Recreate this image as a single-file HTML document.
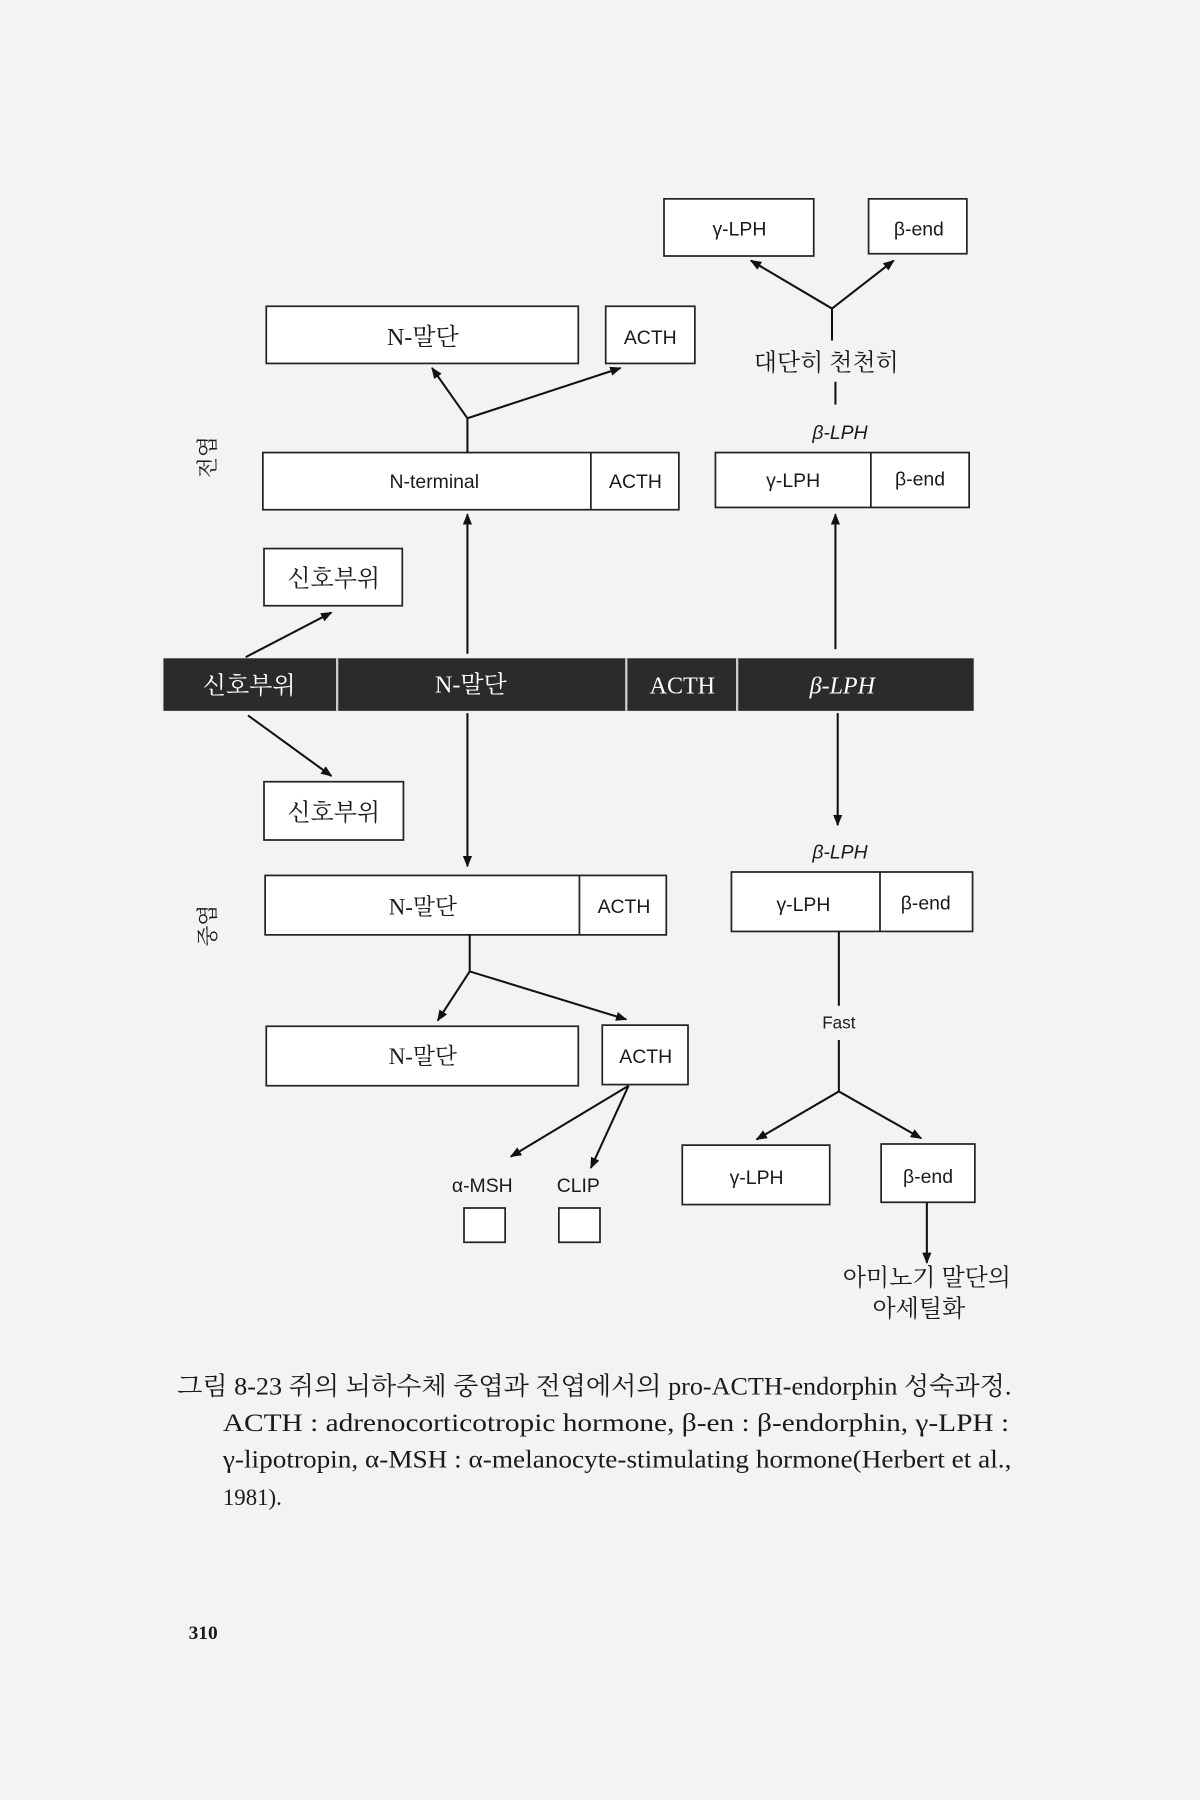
<!DOCTYPE html>
<html><head><meta charset="utf-8"><style>
html,body{margin:0;padding:0;background:#f3f3f3;}
svg{display:block}
text{font-family:"Liberation Serif","Noto Serif CJK SC","Noto Sans CJK KR",serif;fill:#1a1a1a}
.s{font-family:"Liberation Sans","Noto Sans CJK KR",sans-serif}
</style></head><body>
<svg width="1200" height="1800" viewBox="0 0 1050 1575" xmlns="http://www.w3.org/2000/svg">
<defs><marker id="a" markerWidth="10" markerHeight="8" refX="9" refY="4" orient="auto" markerUnits="userSpaceOnUse"><path d="M0,0 L10,4 L0,8 Z" fill="#111"/></marker></defs>
<rect width="1050" height="1575" fill="#f3f3f3"/>
<g fill="#fff" stroke="#222" stroke-width="1.5">
<rect x="581" y="174" width="131" height="50"/><rect x="760" y="174" width="86" height="48"/>
<rect x="233" y="268" width="273" height="50"/><rect x="530" y="268" width="78" height="50"/>
<rect x="230" y="396" width="364" height="50"/><line x1="517" y1="396" x2="517" y2="446"/>
<rect x="626" y="396" width="222" height="48"/><line x1="762" y1="396" x2="762" y2="444"/>
<rect x="231" y="480" width="121" height="50"/><rect x="231" y="684" width="122" height="51"/>
<rect x="232" y="766" width="351" height="52"/><line x1="507" y1="766" x2="507" y2="818"/>
<rect x="640" y="763" width="211" height="52"/><line x1="770" y1="763" x2="770" y2="815"/>
<rect x="233" y="898" width="273" height="52"/><rect x="527" y="897" width="75" height="52"/>
<rect x="406" y="1057" width="36" height="30"/><rect x="489" y="1057" width="36" height="30"/>
<rect x="597" y="1002" width="129" height="52"/><rect x="771" y="1001" width="82" height="51"/>
</g>
<rect x="143" y="576" width="709" height="46" fill="#2b2b2e"/>
<g stroke="#ccc" stroke-width="2"><line x1="295" y1="576" x2="295" y2="622"/><line x1="548" y1="576" x2="548" y2="622"/><line x1="645" y1="576" x2="645" y2="622"/></g>
<g stroke="#111" stroke-width="1.8" fill="none">
<line x1="728" y1="270" x2="657" y2="228" marker-end="url(#a)"/><line x1="728" y1="270" x2="782" y2="228" marker-end="url(#a)"/>
<line x1="728" y1="270" x2="728" y2="298"/><line x1="731" y1="334" x2="731" y2="354"/>
<line x1="409" y1="366" x2="378" y2="322" marker-end="url(#a)"/><line x1="409" y1="366" x2="543" y2="322" marker-end="url(#a)"/>
<line x1="409" y1="366" x2="409" y2="396"/>
<line x1="409" y1="572" x2="409" y2="450" marker-end="url(#a)"/>
<line x1="731" y1="568" x2="731" y2="450" marker-end="url(#a)"/>
<line x1="215" y1="575" x2="290" y2="536" marker-end="url(#a)"/>
<line x1="217" y1="626" x2="290" y2="679" marker-end="url(#a)"/>
<line x1="409" y1="624" x2="409" y2="758" marker-end="url(#a)"/>
<line x1="733" y1="624" x2="733" y2="722" marker-end="url(#a)"/>
<line x1="411" y1="818" x2="411" y2="850"/>
<line x1="411" y1="850" x2="383" y2="893" marker-end="url(#a)"/><line x1="411" y1="850" x2="548" y2="892" marker-end="url(#a)"/>
<line x1="550" y1="950" x2="447" y2="1012" marker-end="url(#a)"/><line x1="550" y1="950" x2="517" y2="1022" marker-end="url(#a)"/>
<line x1="734" y1="815" x2="734" y2="880"/><line x1="734" y1="910" x2="734" y2="955"/>
<line x1="734" y1="955" x2="662" y2="997" marker-end="url(#a)"/><line x1="734" y1="955" x2="806" y2="996" marker-end="url(#a)"/>
<line x1="811" y1="1052" x2="811" y2="1105" marker-end="url(#a)"/>
</g>
<g class="s" font-size="17" text-anchor="middle">
<text class="s" x="647" y="206">γ-LPH</text><text class="s" x="804" y="206">β-end</text>
<text x="370" y="302" font-size="21">N-말단</text><text class="s" x="569" y="301">ACTH</text>
<text x="723" y="324" font-size="21">대단히 천천히</text>
<text class="s" x="735" y="384" font-style="italic">β-LPH</text>
<text class="s" x="380" y="427">N-terminal</text><text class="s" x="556" y="427">ACTH</text>
<text class="s" x="694" y="426">γ-LPH</text><text class="s" x="805" y="425">β-end</text>
<text x="292" y="513" font-size="21">신호부위</text>
<text x="218" y="607" font-size="21" style="fill:#fff">신호부위</text><text x="412" y="606" font-size="21" style="fill:#fff">N-말단</text>
<text x="597" y="607" font-size="21" style="fill:#fff">ACTH</text><text x="737" y="607" font-size="21" style="fill:#fff" font-style="italic">β-LPH</text>
<text x="292" y="718" font-size="21">신호부위</text>
<text class="s" x="735" y="751" font-style="italic">β-LPH</text>
<text x="370" y="800" font-size="20">N-말단</text><text class="s" x="546" y="799">ACTH</text>
<text class="s" x="703" y="797">γ-LPH</text><text class="s" x="810" y="796">β-end</text>
<text class="s" x="734" y="900" font-size="15">Fast</text>
<text x="370" y="931" font-size="20">N-말단</text><text class="s" x="565" y="930">ACTH</text>
<text class="s" x="422" y="1043">α-MSH</text><text class="s" x="506" y="1043">CLIP</text>
<text class="s" x="662" y="1036">γ-LPH</text><text class="s" x="812" y="1035">β-end</text>
<text x="811" y="1125" font-size="21">아미노기 말단의</text><text x="804" y="1152" font-size="21">아세틸화</text>
</g>
<text x="0" y="0" font-size="19" transform="translate(188,400) rotate(-90)" text-anchor="middle">전엽</text>
<text x="0" y="0" font-size="19" transform="translate(188,810) rotate(-90)" text-anchor="middle">중엽</text>
<g font-size="22">
<text x="155" y="1220" textLength="730" lengthAdjust="spacingAndGlyphs">그림 8-23  쥐의 뇌하수체 중엽과 전엽에서의 pro-ACTH-endorphin 성숙과정.</text>
<text x="195" y="1252" textLength="688" lengthAdjust="spacingAndGlyphs">ACTH : adrenocorticotropic   hormone,   β-en : β-endorphin,   γ-LPH :</text>
<text x="195" y="1284" textLength="690" lengthAdjust="spacingAndGlyphs">γ-lipotropin, α-MSH : α-melanocyte-stimulating hormone(Herbert et al.,</text>
<text x="195" y="1317" font-size="20">1981).</text>
<text x="165" y="1434" font-size="17" font-weight="bold">310</text>
</g>
</svg>
</body></html>
